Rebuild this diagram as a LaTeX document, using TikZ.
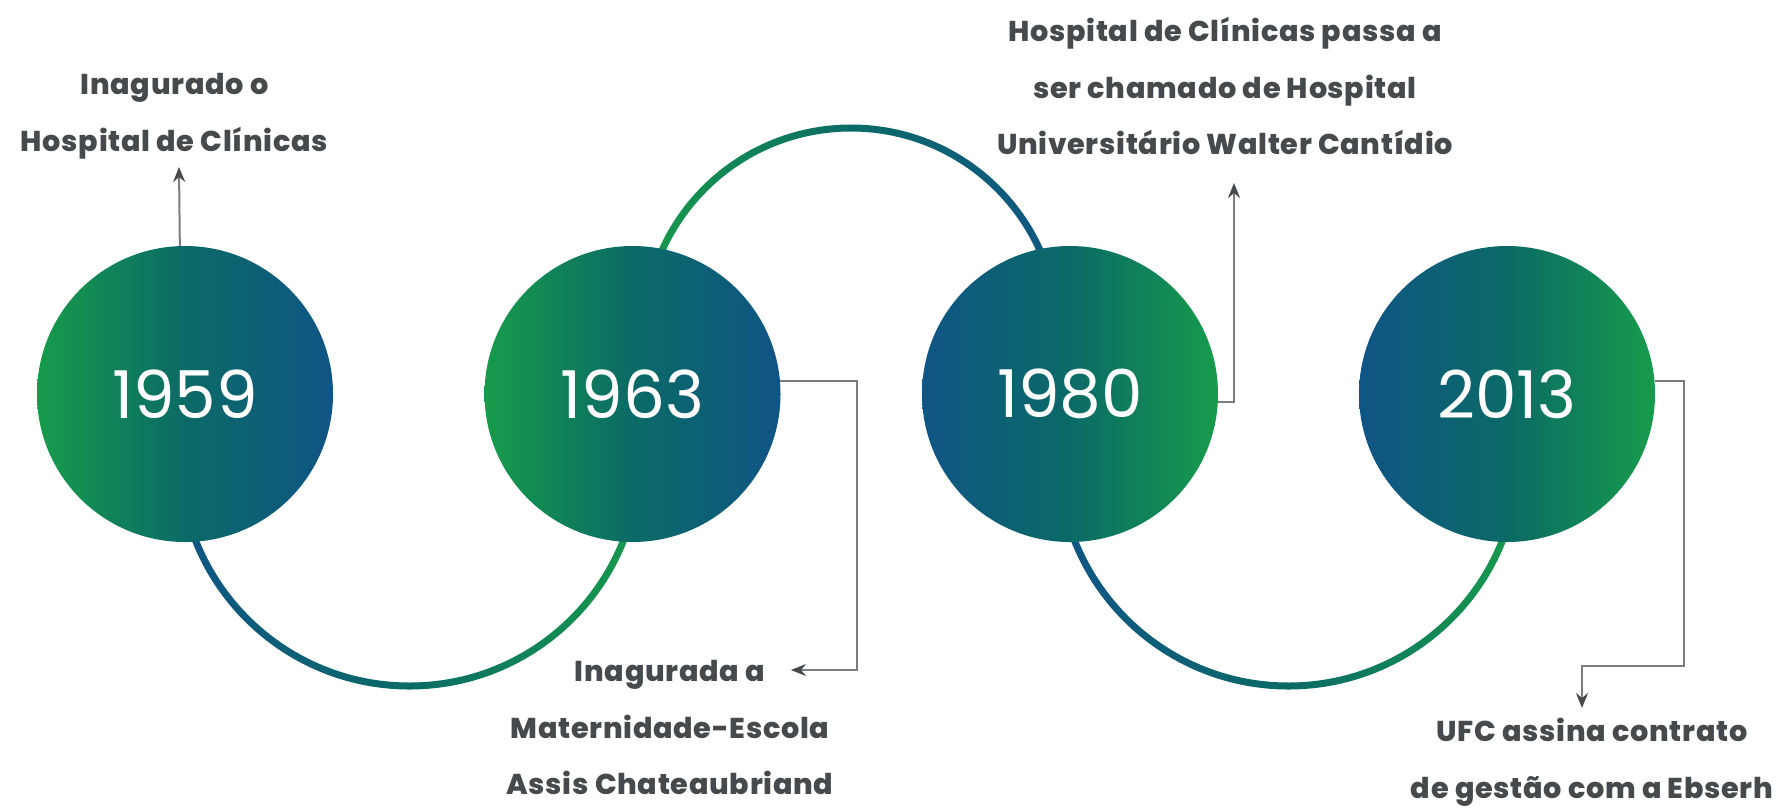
\documentclass[tikz,border=0pt]{standalone}
\usepackage{fontspec}
\setmainfont{Poppins}
\IfFontExistsTF{Poppins ExtraBold}{\newfontfamily\factfont{Poppins ExtraBold}[LetterSpace=2.5]}{\newfontfamily\factfont{Poppins Bold}[LetterSpace=3.5]}
\newfontfamily\yearfont{Poppins}
\usetikzlibrary{arrows.meta}
\definecolor{hugreen}{RGB}{23,155,75}
\definecolor{huteal}{RGB}{11,106,102}
\definecolor{hublue}{RGB}{15,85,133}
\definecolor{labelgray}{RGB}{70,74,76}
\definecolor{linkgray}{RGB}{125,125,125}
\tikzstyle{gb} = [left color=hugreen, right color=hublue, middle color=huteal]
\tikzstyle{bg} = [left color=hublue, right color=hugreen, middle color=huteal]
\tikzstyle{year} = [circle, minimum size=296pt, inner sep=0pt, text=white, font=\yearfont\fontsize{66}{66}\selectfont]
\tikzstyle{fact} = [align=center, anchor=north, inner sep=0pt, text=labelgray, font=\factfont\fontsize{28.7}{56.7}\selectfont]
\tikzstyle{link} = [draw=linkgray, line width=2pt, -{Stealth[length=15pt, width=12pt, inset=5pt, color=labelgray]}]

\begin{document}
\begin{tikzpicture}[x=1pt,y=-1pt,node distance=440pt]
  \useasboundingbox (0,0) rectangle (1790,807);
  % bands between the circles
  \shade[bg] (643,456) arc[start angle=0, end angle=180, radius=233.5] -- (183,456) arc[start angle=180, end angle=0, radius=226.5] -- cycle;
  \shade[gb] (1061.5,335) arc[start angle=0, end angle=-180, radius=210.5] -- (647.5,335) arc[start angle=-180, end angle=0, radius=203.5] -- cycle;
  \shade[bg] (1522,456) arc[start angle=0, end angle=180, radius=233.5] -- (1062,456) arc[start angle=180, end angle=0, radius=226.5] -- cycle;

  \node[year, gb] (y1959) at (185,394) {1959};
  \node[year, gb] (y1963) [right of=y1959, node distance=447.5pt] {1963};
  \node[year, bg] (y1980) [right of=y1963, node distance=437.5pt] {1980};
  \node[year, bg] (y2013) [right of=y1980, node distance=437pt] {2013};

  \node[fact] (t1959) at (174.5,73.5) {Inagurado o\\Hospital de Clínicas};
  \node[fact] (t1963) at (670,660) {Inagurada a\\Maternidade-Escola\\Assis Chateaubriand};
  \node[fact] (t1980) at (1225,17) {Hospital de Clínicas passa a\\ser chamado de Hospital\\Universitário Walter Cantídio};
  \node[fact] (t2013) at (1592,718) {UFC assina contrato\\de gestão com a Ebserh};

  \coordinate (tip1959) at (179,167);
  \coordinate (k1963) at (857,670);
  \coordinate (tip1963) at (791,670);
  \coordinate (tip1980) at (1234,183);
  \coordinate (k2013) at (1684,666);
  \coordinate (tip2013) at (1582,708);

  \draw[link] (y1959.92.3) -- (tip1959);
  \draw[link] (y1963.5) -| (k1963) -- (tip1963);
  \draw[link] (y1980.-3) -| (tip1980);
  \draw[link] (y2013.5) -| (k2013) -| (tip2013);
\end{tikzpicture}
\end{document}
